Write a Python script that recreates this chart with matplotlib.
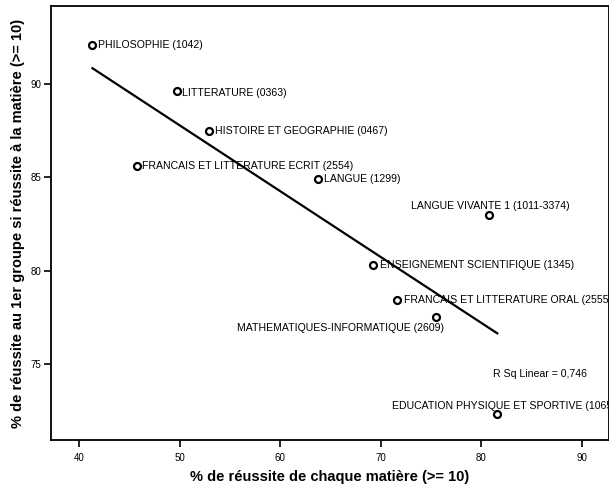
import matplotlib
matplotlib.use('Agg')
import matplotlib.pyplot as plt
import numpy as np

# matières (codes entre parenthèses)
labels = [
    "PHILOSOPHIE (1042)",
    "LITTERATURE (0363)",
    "HISTOIRE ET GEOGRAPHIE (0467)",
    "FRANCAIS ET LITTERATURE ECRIT (2554)",
    "LANGUE (1299)",
    "LANGUE VIVANTE 1 (1011-3374)",
    "ENSEIGNEMENT SCIENTIFIQUE (1345)",
    "FRANCAIS ET LITTERATURE ORAL (2555)",
    "MATHEMATIQUES-INFORMATIQUE (2609)",
    "EDUCATION PHYSIQUE ET SPORTIVE (1065)",
]
# % de réussite de chaque matière (>= 10)
reussite_matiere = [41.3, 49.7, 52.9, 45.7, 63.8, 80.8, 69.2, 71.6, 75.5, 81.6]
# % de réussite au 1er groupe si réussite à la matière
reussite_groupe = [92.1, 89.6, 87.5, 85.6, 84.9, 83.0, 80.3, 78.4, 77.5, 72.3]

r2_text = "R Sq Linear = 0,746"
xticks = [40, 50, 60, 70, 80, 90]
yticks = [75, 80, 85, 90]

# placement des étiquettes (points de décalage, alignement)
label_pos = [
    ((4, 0), "left", "center"),
    ((4, -1), "left", "center"),
    ((4, 0), "left", "center"),
    ((4, 0), "left", "center"),
    ((4, 0), "left", "center"),
    ((1, 6), "center", "center"),
    ((5, 0), "left", "center"),
    ((5, 0), "left", "center"),
    ((6, -8), "right", "center"),
    ((-76, 6), "left", "center"),
]


def main():
    plt.rcParams['font.family'] = ['Liberation Sans', 'DejaVu Sans']

    fig = plt.figure(figsize=(6.09, 4.88), dpi=100)
    ax = fig.add_axes([0.0835, 0.0984, 0.916, 0.8893])

    x = np.array(reussite_matiere)
    y = np.array(reussite_groupe)

    # droite de régression
    a, b = np.polyfit(x, y, 1)
    xs = np.array([x.min(), x.max()])
    ax.plot(xs, a * xs + b, color="black", linewidth=1.6, zorder=2)

    ax.plot(x, y, linestyle="none", marker="o", markersize=5,
            markerfacecolor="white", markeredgecolor="black",
            markeredgewidth=1.6, zorder=3)

    for lab, xi, yi, (off, ha, va) in zip(labels, x, y, label_pos):
        ax.annotate(lab, (xi, yi), xytext=off, textcoords="offset points",
                    ha=ha, va=va, fontsize=7.6, zorder=4,
                    annotation_clip=False)

    ax.text(81.2, 74.45, r2_text, fontsize=7.6, va="center", ha="left")

    ax.set_xlim(37.16, 92.69)
    ax.set_ylim(70.92, 94.18)
    ax.set_xticks(xticks)
    ax.set_yticks(yticks)
    ax.tick_params(axis="x", direction="out", length=5, width=1.2,
                   labelsize=7, pad=4.5)
    ax.tick_params(axis="y", direction="out", length=5, width=1.2,
                   labelsize=7, pad=2)

    for s in ax.spines.values():
        s.set_linewidth(1.3)

    ax.set_xlabel("% de réussite de chaque matière (>= 10)",
                  fontsize=10.5, fontweight="bold", labelpad=5)
    ax.set_ylabel("% de réussite au 1er groupe si réussite à la matière (>= 10)",
                  fontsize=10.5, fontweight="bold", labelpad=4)

    fig.savefig("out.png", dpi=100)


if __name__ == "__main__":
    main()
